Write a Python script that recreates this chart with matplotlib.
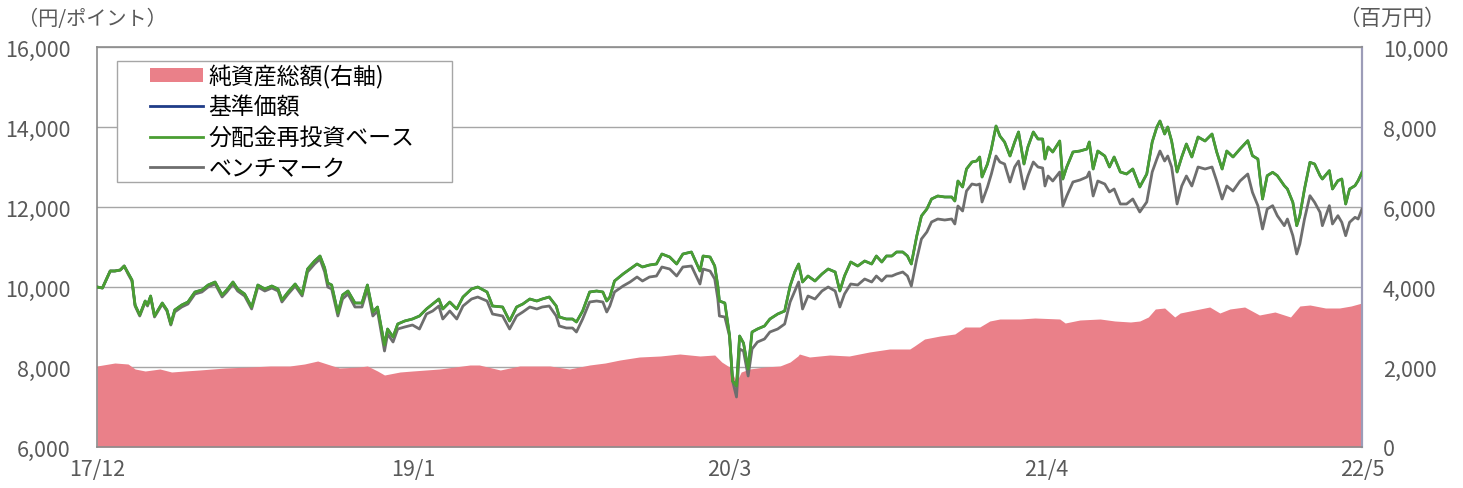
import matplotlib
matplotlib.use("Agg")
import matplotlib.pyplot as plt
import matplotlib.dates as mdates
from matplotlib.patches import Rectangle, Patch
from matplotlib.lines import Line2D
import pandas as pd
import numpy as np

plt.rcParams['font.family'] = ['Noto Sans CJK JP', 'DejaVu Sans']

# ---- data: fund NAV (reinvested), NAV, benchmark (left axis, yen/points) ----
line_dates = [
    "2017-12-15", "2017-12-22", "2018-01-01", "2018-01-07", "2018-01-14", "2018-01-19", "2018-01-24", "2018-01-29",
    "2018-02-02", "2018-02-08", "2018-02-15", "2018-02-18", "2018-02-22", "2018-02-27", "2018-03-09", "2018-03-15",
    "2018-03-20", "2018-03-25", "2018-04-03", "2018-04-11", "2018-04-20", "2018-04-29", "2018-05-07", "2018-05-16",
    "2018-05-25", "2018-05-31", "2018-06-08", "2018-06-14", "2018-06-23", "2018-07-02", "2018-07-10", "2018-07-19",
    "2018-07-28", "2018-08-05", "2018-08-10", "2018-08-18", "2018-08-27", "2018-09-05", "2018-09-12", "2018-09-21",
    "2018-09-28", "2018-10-04", "2018-10-08", "2018-10-13", "2018-10-21", "2018-10-27", "2018-11-03", "2018-11-12",
    "2018-11-21", "2018-11-28", "2018-12-05", "2018-12-11", "2018-12-20", "2018-12-24", "2018-12-31", "2019-01-06",
    "2019-01-15", "2019-01-25", "2019-02-03", "2019-02-12", "2019-02-20", "2019-02-28", "2019-03-05", "2019-03-14",
    "2019-03-23", "2019-03-31", "2019-04-11", "2019-04-19", "2019-05-01", "2019-05-08", "2019-05-21", "2019-05-30",
    "2019-06-08", "2019-06-16", "2019-06-25", "2019-07-04", "2019-07-11", "2019-07-20", "2019-07-29", "2019-08-02",
    "2019-08-11", "2019-08-19", "2019-08-24", "2019-09-01", "2019-09-10", "2019-09-19", "2019-09-27", "2019-10-02",
    "2019-10-06", "2019-10-12", "2019-10-23", "2019-11-01", "2019-11-10", "2019-11-17", "2019-11-26", "2019-12-05",
    "2019-12-12", "2019-12-22", "2019-12-31", "2020-01-08", "2020-01-19", "2020-01-30", "2020-02-03", "2020-02-12",
    "2020-02-18", "2020-02-22", "2020-02-24", "2020-03-02", "2020-03-08", "2020-03-12", "2020-03-17", "2020-03-21",
    "2020-03-26", "2020-04-01", "2020-04-06", "2020-04-13", "2020-04-22", "2020-04-29", "2020-05-09", "2020-05-18",
    "2020-05-25", "2020-05-31", "2020-06-05", "2020-06-10", "2020-06-17", "2020-06-26", "2020-07-05", "2020-07-13",
    "2020-07-22", "2020-07-28", "2020-08-03", "2020-08-11", "2020-08-20", "2020-08-29", "2020-09-07", "2020-09-13",
    "2020-09-20", "2020-09-26", "2020-10-03", "2020-10-09", "2020-10-17", "2020-10-23", "2020-10-28", "2020-11-04",
    "2020-11-10", "2020-11-17", "2020-11-23", "2020-12-01", "2020-12-10", "2020-12-19", "2020-12-23", "2020-12-27",
    "2021-01-02", "2021-01-07", "2021-01-14", "2021-01-20", "2021-01-24", "2021-01-27", "2021-02-03", "2021-02-08",
    "2021-02-14", "2021-02-19", "2021-02-25", "2021-03-04", "2021-03-10", "2021-03-15", "2021-03-22", "2021-03-27",
    "2021-04-03", "2021-04-09", "2021-04-15", "2021-04-18", "2021-04-22", "2021-04-28", "2021-05-07", "2021-05-11",
    "2021-05-16", "2021-05-24", "2021-06-02", "2021-06-11", "2021-06-14", "2021-06-19", "2021-06-25", "2021-07-04",
    "2021-07-10", "2021-07-16", "2021-07-24", "2021-08-01", "2021-08-09", "2021-08-18", "2021-08-27", "2021-09-03",
    "2021-09-09", "2021-09-13", "2021-09-19", "2021-09-23", "2021-09-28", "2021-10-05", "2021-10-11", "2021-10-17",
    "2021-10-24", "2021-11-01", "2021-11-10", "2021-11-19", "2021-11-25", "2021-12-02", "2021-12-08", "2021-12-16",
    "2021-12-25", "2022-01-04", "2022-01-10", "2022-01-17", "2022-01-23", "2022-01-29", "2022-02-05", "2022-02-11",
    "2022-02-20", "2022-02-24", "2022-03-03", "2022-03-08", "2022-03-12", "2022-03-18", "2022-03-25", "2022-03-31",
    "2022-04-07", "2022-04-10", "2022-04-19", "2022-04-23", "2022-04-30", "2022-05-05", "2022-05-10", "2022-05-15",
    "2022-05-22", "2022-05-26", "2022-05-31",
]

reinvested = [
    10000, 9975, 10400, 10400, 10425, 10525, 10350, 10175,
    9550, 9300, 9650, 9550, 9775, 9275, 9600, 9425,
    9075, 9425, 9550, 9625, 9875, 9925, 10050, 10125,
    9800, 9925, 10125, 9950, 9825, 9500, 10050, 9950,
    10025, 9950, 9675, 9875, 10075, 9825, 10450, 10650,
    10775, 10475, 10100, 10050, 9350, 9800, 9900, 9600,
    9600, 10050, 9375, 9500, 8550, 8950, 8750, 9075,
    9150, 9200, 9275, 9450, 9575, 9700, 9450, 9625,
    9450, 9750, 9950, 10000, 9875, 9525, 9500, 9150,
    9500, 9575, 9700, 9650, 9700, 9750, 9525, 9250,
    9200, 9200, 9125, 9400, 9875, 9900, 9875, 9650,
    9750, 10150, 10325, 10450, 10575, 10500, 10550, 10575,
    10825, 10750, 10575, 10825, 10875, 10400, 10775, 10750,
    10525, 10025, 9650, 9600, 8800, 7650, 7525, 8775,
    8600, 7950, 8875, 8950, 9025, 9200, 9325, 9400,
    10025, 10375, 10575, 10125, 10275, 10150, 10325, 10450,
    10375, 9900, 10275, 10625, 10525, 10650, 10575, 10775,
    10625, 10775, 10775, 10875, 10875, 10775, 10575, 11275,
    11775, 11950, 12200, 12275, 12250, 12250, 12150, 12650,
    12500, 12950, 13125, 13150, 13250, 12750, 13075, 13450,
    14025, 13775, 13625, 13275, 13625, 13875, 13075, 13500,
    13875, 13700, 13700, 13200, 13500, 13375, 13650, 12700,
    13000, 13375, 13400, 13450, 13625, 12950, 13400, 13275,
    13000, 13250, 12875, 12825, 12950, 12500, 12825, 13625,
    14000, 14150, 13825, 14000, 13650, 12875, 13250, 13575,
    13250, 13750, 13650, 13825, 13375, 12950, 13400, 13250,
    13450, 13658, 13283, 13200, 12200, 12783, 12867, 12783,
    12533, 12450, 12117, 11533, 11783, 12450, 13117, 13075,
    12783, 12700, 12908, 12450, 12658, 12700, 12075, 12450,
    12533, 12658, 12867,
]

benchmark = [
    10000, 9975, 10400, 10400, 10425, 10525, 10325, 10150,
    9525, 9275, 9625, 9525, 9750, 9250, 9575, 9400,
    9050, 9375, 9500, 9575, 9825, 9875, 10000, 10075,
    9750, 9875, 10075, 9900, 9775, 9450, 10000, 9900,
    9975, 9900, 9625, 9825, 10025, 9775, 10375, 10575,
    10700, 10375, 10000, 9950, 9275, 9700, 9825, 9500,
    9500, 9950, 9275, 9400, 8400, 8825, 8625, 8950,
    9000, 9050, 8950, 9325, 9400, 9525, 9200, 9400,
    9200, 9525, 9700, 9750, 9650, 9325, 9275, 8950,
    9275, 9375, 9500, 9450, 9500, 9525, 9275, 9025,
    8975, 8975, 8875, 9200, 9625, 9650, 9625, 9375,
    9525, 9875, 10025, 10125, 10250, 10150, 10250, 10275,
    10500, 10450, 10275, 10500, 10525, 10075, 10450, 10400,
    10200, 9700, 9275, 9250, 8775, 7650, 7250, 8450,
    8400, 7775, 8450, 8625, 8700, 8875, 8950, 9075,
    9625, 9900, 10125, 9450, 9775, 9700, 9900, 10000,
    9900, 9500, 9825, 10075, 10050, 10200, 10125, 10275,
    10150, 10275, 10275, 10325, 10375, 10275, 10025, 10700,
    11200, 11375, 11625, 11700, 11675, 11700, 11575, 12025,
    11900, 12400, 12575, 12550, 12575, 12125, 12500, 12825,
    13275, 13125, 13075, 12625, 13000, 13150, 12450, 12775,
    13125, 13000, 12975, 12525, 12775, 12650, 12875, 12025,
    12275, 12625, 12675, 12750, 12875, 12275, 12650, 12575,
    12375, 12450, 12075, 12075, 12200, 11875, 12125, 12875,
    13200, 13400, 13150, 13275, 13000, 12075, 12525, 12775,
    12525, 13000, 12950, 13000, 12650, 12200, 12525, 12400,
    12650, 12825, 12367, 12033, 11450, 11950, 12033, 11783,
    11533, 11700, 11283, 10825, 11075, 11700, 12283, 12117,
    11867, 11533, 12033, 11575, 11783, 11617, 11283, 11617,
    11742, 11700, 11950,
]

# NAV (基準価額) is identical to the reinvested series (no distributions)
nav = list(reinvested)

# ---- data: net assets (right axis, million yen) ----
asset_dates = [
    "2017-12-15", "2018-01-07", "2018-01-24", "2018-02-02", "2018-02-15", "2018-03-06", "2018-03-21", "2018-04-07",
    "2018-04-26", "2018-05-29", "2018-06-30", "2018-07-26", "2018-08-20", "2018-09-08", "2018-09-25", "2018-10-11",
    "2018-10-23", "2018-11-18", "2018-11-28", "2018-12-11", "2018-12-20", "2019-01-09", "2019-01-25", "2019-03-01",
    "2019-04-09", "2019-04-21", "2019-05-18", "2019-06-12", "2019-07-21", "2019-08-15", "2019-09-10", "2019-09-30",
    "2019-10-19", "2019-11-13", "2019-12-10", "2020-01-04", "2020-01-30", "2020-02-18", "2020-02-27", "2020-03-02",
    "2020-03-08", "2020-03-17", "2020-03-23", "2020-04-03", "2020-04-22", "2020-05-12", "2020-05-25", "2020-06-04",
    "2020-06-06", "2020-06-19", "2020-07-15", "2020-08-09", "2020-09-04", "2020-09-30", "2020-10-26", "2020-11-01",
    "2020-11-14", "2020-12-04", "2020-12-23", "2021-01-05", "2021-01-24", "2021-02-06", "2021-02-19", "2021-03-17",
    "2021-04-05", "2021-05-07", "2021-05-14", "2021-06-02", "2021-06-28", "2021-07-17", "2021-08-06", "2021-08-18",
    "2021-08-29", "2021-09-07", "2021-09-19", "2021-10-02", "2021-10-09", "2021-10-28", "2021-11-16", "2021-11-29",
    "2021-12-12", "2021-12-31", "2022-01-19", "2022-02-08", "2022-02-28", "2022-03-12", "2022-03-25", "2022-04-14",
    "2022-05-02", "2022-05-17", "2022-05-31",
]

net_assets = [
    2025, 2100, 2075, 1950, 1900, 1950, 1875, 1900,
    1925, 1975, 2000, 2025, 2025, 2075, 2150, 2050,
    1975, 2000, 2025, 1900, 1800, 1875, 1900, 1950,
    2050, 2050, 1925, 2025, 2025, 1950, 2050, 2100,
    2175, 2250, 2275, 2325, 2275, 2300, 2125, 2075,
    2000, 1625, 1875, 1950, 2000, 2025, 2125, 2275,
    2325, 2250, 2300, 2275, 2375, 2450, 2450, 2525,
    2700, 2775, 2825, 3000, 3000, 3150, 3200, 3200,
    3225, 3200, 3100, 3175, 3200, 3150, 3125, 3150,
    3250, 3450, 3475, 3250, 3350, 3425, 3500, 3350,
    3450, 3500, 3300, 3375, 3250, 3525, 3550, 3475,
    3475, 3525, 3600,
]

left_ticks = [6000, 8000, 10000, 12000, 14000, 16000]
right_ticks = [0, 2000, 4000, 6000, 8000, 10000]
x_start, x_end = "2017-12-15", "2022-05-31"

labels = ["純資産総額(右軸)", "基準価額", "分配金再投資ベース", "ベンチマーク"]

# ---- styling ----
c_area = "#EA8089"
c_nav = "#1F3C88"
c_green = "#4A9E32"
c_gray = "#6E6E6E"
c_tick = "#595959"
c_spine = "#8C8C8C"

W, H = 1463, 489
fig = plt.figure(figsize=(W / 100, H / 100), dpi=100)
ax = fig.add_axes([97 / W, 1 - 448 / H, (1362 - 97) / W, 400 / H])
ax2 = ax.twinx()

ld = pd.to_datetime(line_dates)
ad = pd.to_datetime(asset_dates)

# right axis: grid + area (drawn behind)
ax2.set_ylim(right_ticks[0], right_ticks[-1])
ax2.set_yticks(right_ticks)
ax2.set_yticklabels([f"{v:,}" for v in right_ticks])
ax2.yaxis.grid(True, color="#A6A6A6", linewidth=1.0)
ax2.set_axisbelow(True)
ax2.fill_between(ad, net_assets, 0, color=c_area, linewidth=0, zorder=2)

# left axis: lines on top
ax.set_zorder(ax2.get_zorder() + 1)
ax.patch.set_visible(False)
ax.plot(ld, nav, color=c_nav, linewidth=1.8, zorder=3)
ax.plot(ld, benchmark, color=c_gray, linewidth=2.0, zorder=4)
ax.plot(ld, reinvested, color=c_green, linewidth=2.0, zorder=5)
ax.set_ylim(left_ticks[0], left_ticks[-1])
ax.set_yticks(left_ticks)
ax.set_yticklabels([f"{v:,}" for v in left_ticks])

t0 = mdates.date2num(pd.Timestamp(x_start))
t1 = mdates.date2num(pd.Timestamp(x_end))
ax.set_xlim(t0, t1)
xt = np.linspace(t0, t1, 5)
ax.set_xticks(xt)
ax.set_xticklabels([f"{mdates.num2date(v).year % 100}/{mdates.num2date(v).month}" for v in xt])

for a in (ax, ax2):
    a.tick_params(length=0, labelsize=15.5, colors=c_tick)
ax.tick_params(axis="y", pad=19)
ax2.tick_params(axis="y", pad=15)
ax.tick_params(axis="x", pad=8)

for s in ax2.spines.values():
    s.set_visible(False)
for name in ("left", "bottom", "top"):
    ax.spines[name].set_color(c_spine)
    ax.spines[name].set_linewidth(1.2)
ax.spines["right"].set_color("#9C9CB8")
ax.spines["right"].set_linewidth(1.6)

# unit labels
fig.text(18 / W, 1 - 19 / H, "（円/ポイント）", fontsize=14.5, color=c_tick, va="center", ha="left")
fig.text(1446 / W, 1 - 19 / H, "（百万円）", fontsize=15.5, color=c_tick, va="center", ha="right")

# legend
handles = [
    Patch(facecolor=c_area, edgecolor="none"),
    Line2D([], [], color=c_nav, linewidth=2),
    Line2D([], [], color=c_green, linewidth=2),
    Line2D([], [], color=c_gray, linewidth=2),
]
box = Rectangle(((117 - 97) / 1265, (448 - 183) / 400), (452 - 117) / 1265, (183 - 62) / 400,
                transform=ax.transAxes, facecolor="white", edgecolor="#A6A6A6", linewidth=1.0, zorder=6)
ax.add_patch(box)
leg = ax.legend(handles, labels, loc="upper left", bbox_to_anchor=((150 - 97) / 1265, (448 - 65) / 400),
                frameon=False, fontsize=16.5, handlelength=2.3, handleheight=0.55, handletextpad=0.25,
                labelspacing=0.33, borderpad=0, borderaxespad=0)
leg.set_zorder(7)

fig.savefig("out.png", dpi=100)
